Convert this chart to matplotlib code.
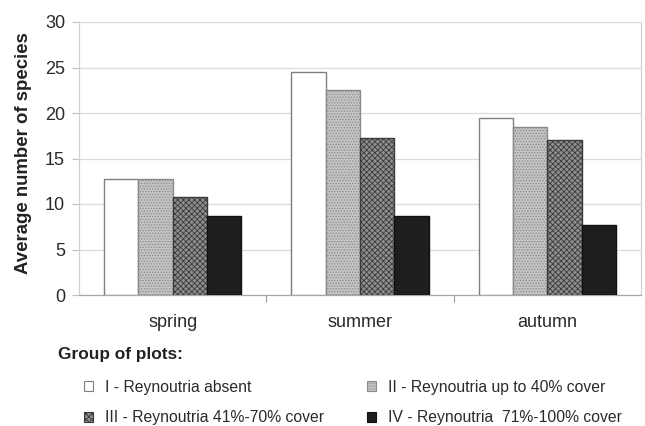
import matplotlib
matplotlib.use("Agg")
import matplotlib.pyplot as plt
from matplotlib.patches import Patch
import numpy as np

plt.rcParams['font.family'] = ['Liberation Sans', 'DejaVu Sans']
plt.rcParams['hatch.linewidth'] = 0.6

seasons = ["spring", "summer", "autumn"]
groups = ["I - Reynoutria absent", "II - Reynoutria up to 40% cover",
          "III - Reynoutria 41%-70% cover", "IV - Reynoutria  71%-100% cover"]
group_I = [12.8, 24.5, 19.5]
group_II = [12.8, 22.5, 18.5]
group_III = [10.8, 17.3, 17.0]
group_IV = [8.7, 8.7, 7.7]
yticks = [0, 5, 10, 15, 20, 25, 30]

series = [group_I, group_II, group_III, group_IV]
faces = ["white", "#c4c4c4", "#8e8e8e", "#1e1e1e"]
edges = ["#7f7f7f", "#8a8a8a", "#3a3a3a", "#111111"]
hatches = [None, "......", "xxxxxx", None]

W, H = 645, 426
fig = plt.figure(figsize=(6.45, 4.26), dpi=100)
ax = fig.add_axes([79 / W, 1 - 295 / H, 562 / W, 273 / H])

x = np.arange(len(seasons))
w = 0.183
handles = []
for i, (vals, fc, ec, h) in enumerate(zip(series, faces, edges, hatches)):
    off = (i - 1.5) * w
    ax.bar(x + off, vals, width=w, facecolor=fc, edgecolor=ec,
           linewidth=1.0, hatch=h, zorder=3)
    handles.append(Patch(facecolor=fc, edgecolor=ec, hatch=h, linewidth=0.8,
                         label=groups[i]))

ax.set_xlim(-0.5, 2.5)
ax.set_ylim(0, 30)
ax.set_yticks(yticks)
ax.set_yticklabels([str(t) for t in yticks], fontsize=13, color="#2a2a2a")
ax.set_xticks(x)
ax.set_xticklabels(seasons, fontsize=13, color="#2a2a2a")
ax.tick_params(axis='x', which='major', length=0, pad=14)
ax.set_xticks([0.5, 1.5], minor=True)
ax.tick_params(axis='x', which='minor', length=5, color="#9a9a9a", width=0.8)
ax.tick_params(axis='y', length=5, color="#c0c0c0", width=0.8, pad=5)
ax.yaxis.grid(True, color="#dcdcdc", linewidth=0.9, zorder=0)
ax.set_axisbelow(True)
for s in ["left", "right"]:
    ax.spines[s].set_color("#d0d0d0")
    ax.spines[s].set_linewidth(0.9)
ax.spines["top"].set_visible(False)
ax.spines["bottom"].set_color("#a8a8a8")
ax.spines["bottom"].set_linewidth(0.9)

fig.text(23.5 / W, 1 - 153.5 / H, "Average number of species", rotation=90,
         ha="center", va="center", fontsize=13.4, fontweight="bold", color="#222222")

fig.text(58 / W, 1 - 355 / H, "Group of plots:", fontsize=12.4, fontweight="bold",
         color="#222222", ha="left", va="center")

legkw = dict(loc="center left", frameon=False, fontsize=11.3, handlelength=0.6,
             handleheight=0.6, handletextpad=0.76, labelspacing=1.0,
             borderaxespad=0, borderpad=0)
col1 = [handles[0], handles[2]]
col2 = [handles[1], handles[3]]
leg1 = fig.legend(handles=col1, labels=[h.get_label() for h in col1],
                  bbox_to_anchor=(84 / W, 1 - 402.5 / H), **legkw)
leg2 = fig.legend(handles=col2, labels=[h.get_label() for h in col2],
                  bbox_to_anchor=(367 / W, 1 - 402.5 / H), **legkw)
for leg in (leg1, leg2):
    for t in leg.get_texts():
        t.set_color("#2a2a2a")

fig.savefig("out.png", dpi=100)
